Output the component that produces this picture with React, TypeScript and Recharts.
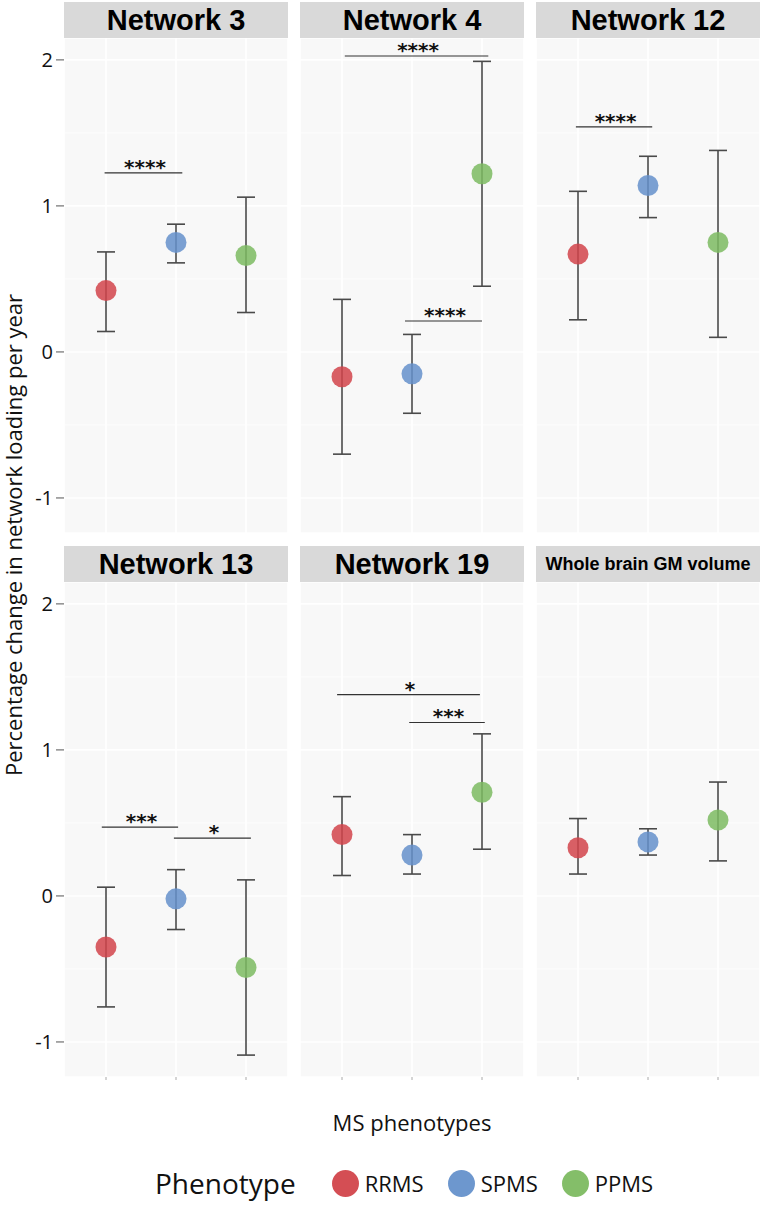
import React from "react";
import { ScatterChart, Scatter, XAxis, YAxis, ErrorBar, ReferenceLine, CartesianGrid } from "recharts";

const PHENOTYPES = ["RRMS", "SPMS", "PPMS"];
const COLORS = ["#d2444b", "#6591cb", "#7dbb61"];
const X_POS = [1, 2, 3];

const PANELS = ["Network 3", "Network 4", "Network 12", "Network 13", "Network 19", "Whole brain GM volume"];

// mean and 95% interval per panel, in phenotype order
const MEANS = [
  [0.42, 0.75, 0.66],
  [-0.17, -0.15, 1.22],
  [0.67, 1.14, 0.75],
  [-0.35, -0.02, -0.49],
  [0.42, 0.28, 0.71],
  [0.33, 0.37, 0.52],
];
const LOWER = [
  [0.14, 0.61, 0.27],
  [-0.7, -0.42, 0.45],
  [0.22, 0.92, 0.1],
  [-0.76, -0.23, -1.09],
  [0.14, 0.15, 0.32],
  [0.15, 0.28, 0.24],
];
const UPPER = [
  [0.685, 0.875, 1.06],
  [0.36, 0.12, 1.99],
  [1.1, 1.34, 1.38],
  [0.06, 0.18, 0.11],
  [0.68, 0.42, 1.11],
  [0.53, 0.46, 0.78],
];

// significance brackets: [from, to, y, label]
const SIGNIF: [number, number, number, string][][] = [
  [[0.98, 2.09, 1.226, "****"]],
  [
    [1.04, 3.09, 2.027, "****"],
    [1.9, 3.0, 0.212, "****"],
  ],
  [[0.97, 2.06, 1.541, "****"]],
  [
    [0.94, 2.03, 0.471, "***"],
    [1.97, 3.07, 0.396, "*"],
  ],
  [
    [0.93, 2.97, 1.379, "*"],
    [1.96, 3.04, 1.188, "***"],
  ],
  [],
];

const Y_TICKS = [-1, 0, 1, 2];
const Y_MINOR = [-0.5, 0.5, 1.5];
const Y_DOMAIN: [number, number] = [-1.24, 2.15];

const PANEL_W = 224;
const PANEL_H = 495;
const COL_LEFT = [64, 300, 536];
const ROW_TOP = [38, 582];
const STRIP_H = 36;

const SANS = "'Open Sans', sans-serif";

function Panel({ idx }: { idx: number }) {
  const col = idx % 3;
  const row = Math.floor(idx / 3);
  const showY = col === 0;
  const showX = row === 1;
  const yw = showY ? 64 : 0;
  const xh = showX ? 8 : 0;

  const data = PHENOTYPES.map((p, i) => ({
    x: X_POS[i],
    y: MEANS[idx][i],
    err: [MEANS[idx][i] - LOWER[idx][i], UPPER[idx][i] - MEANS[idx][i]],
    color: COLORS[i],
    name: p,
  }));
  const sig = SIGNIF[idx];
  const sigLabels = sig.map((s) => ({ x: (s[0] + s[1]) / 2, y: s[2], label: s[3] }));
  const title = PANELS[idx];

  return (
    <>
      <div
        style={{
          position: "absolute",
          left: COL_LEFT[col],
          top: ROW_TOP[row] - STRIP_H,
          width: PANEL_W,
          height: STRIP_H,
          background: "#d9d9d9",
          display: "flex",
          alignItems: "center",
          justifyContent: "center",
          fontFamily: "'Liberation Sans', Arial, sans-serif",
          fontWeight: 700,
          fontSize: title.length > 12 ? 18 : 29,
          color: "#000",
        }}
      >
        {title}
      </div>
      <div style={{ position: "absolute", left: COL_LEFT[col] - yw, top: ROW_TOP[row] }}>
        <ScatterChart
          width={PANEL_W + yw}
          height={PANEL_H + xh}
          margin={{ top: 0, right: 0, bottom: 0, left: 0 }}
          style={{ overflow: "visible" }}
        >
          <CartesianGrid fill="#f8f8f8" stroke="#ffffff" strokeWidth={1.6} />
          <CartesianGrid horizontalValues={Y_MINOR} vertical={false} stroke="#ffffff" strokeWidth={0.8} />
          <XAxis
            type="number"
            dataKey="x"
            domain={[0.4, 3.6]}
            ticks={X_POS}
            hide={!showX}
            height={xh}
            axisLine={false}
            tickSize={3}
            tickLine={{ stroke: "#aaaaaa" }}
            tickFormatter={() => ""}
          />
          <YAxis
            type="number"
            dataKey="y"
            domain={Y_DOMAIN}
            ticks={Y_TICKS}
            hide={!showY}
            width={yw}
            axisLine={false}
            tickSize={8}
            tickMargin={3}
            tickLine={{ stroke: "#555555" }}
            tick={{ fontSize: 20, fontFamily: SANS, fill: "#111111" }}
          />
          {sig.map((s, i) => (
            <ReferenceLine
              key={i}
              segment={[
                { x: s[0], y: s[2] },
                { x: s[1], y: s[2] },
              ]}
              stroke="#333333"
              strokeWidth={1.1}
              ifOverflow="visible"
            />
          ))}
          <Scatter
            data={data}
            isAnimationActive={false}
            shape={(p: any) => <circle cx={p.cx} cy={p.cy} r={10.5} fill={p.payload.color} fillOpacity={0.85} />}
          >
            <ErrorBar dataKey="err" direction="y" width={9} stroke="#4a4a4a" strokeWidth={1.6} isAnimationActive={false} />
          </Scatter>
          <Scatter
            data={sigLabels}
            isAnimationActive={false}
            shape={(p: any) => (
              <text
                x={p.cx}
                y={p.cy + 1}
                dx={1.5}
                textAnchor="middle"
                fontFamily="'DejaVu Sans', sans-serif"
                fontWeight={700}
                fontSize={20}
                letterSpacing={0}
                fill="#111111"
              >
                {p.payload.label}
              </text>
            )}
          />
        </ScatterChart>
      </div>
    </>
  );
}

export default function App() {
  return (
    <div style={{ position: "absolute", left: 0, top: 0, width: 762, height: 1209, background: "#ffffff", fontFamily: SANS }}>
      {PANELS.map((_, i) => (
        <Panel key={i} idx={i} />
      ))}

      <div
        style={{
          position: "absolute",
          left: 13,
          top: 535,
          transform: "translate(-50%, -50%) rotate(-90deg)",
          whiteSpace: "nowrap",
          fontSize: 22,
          color: "#111",
        }}
      >
        Percentage change in network loading per year
      </div>

      <div
        style={{
          position: "absolute",
          left: 412,
          top: 1122,
          transform: "translate(-50%, -50%)",
          whiteSpace: "nowrap",
          fontSize: 22,
          color: "#111",
        }}
      >
        MS phenotypes
      </div>

      <div
        style={{
          position: "absolute",
          left: 155,
          top: 1183,
          transform: "translateY(-50%)",
          display: "flex",
          alignItems: "center",
          whiteSpace: "nowrap",
          color: "#111",
        }}
      >
        <span style={{ fontSize: 28, marginRight: 36 }}>Phenotype</span>
        {PHENOTYPES.map((p, i) => (
          <span key={p} style={{ display: "flex", alignItems: "center", marginRight: 24 }}>
            <span
              style={{
                display: "inline-block",
                width: 27,
                height: 27,
                borderRadius: "50%",
                background: COLORS[i],
                opacity: 0.95,
                marginRight: 6,
              }}
            />
            <span style={{ fontSize: 22 }}>{p}</span>
          </span>
        ))}
      </div>
    </div>
  );
}
